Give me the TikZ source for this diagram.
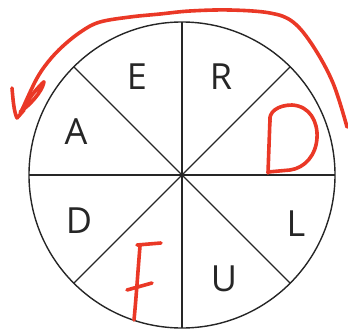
\documentclass[tikz,border=0pt]{standalone}
\usepackage{fontspec}
\setmainfont{Open Sans}
\definecolor{inkred}{RGB}{234,56,38}
\begin{document}
\begin{tikzpicture}[x=1pt,y=-1pt,
  blk/.style={line width=1.4pt,black!85},
  ink/.style={line width=3.6pt,inkred,line cap=round,line join=round},
  lbl/.style={inner sep=0pt,anchor=base,font=\fontsize{36}{36}\selectfont,text=black!85}]
\useasboundingbox (0,0) rectangle (348,332);
\coordinate (c) at (182,175);
\draw[blk] (c) circle[radius=153];
\foreach \a in {0,45,...,315}{\draw[blk] (c) -- ++(\a:153 and -153);}
\node[lbl] (E) at (137,89) {E};
\node[lbl] (R) at (221,89) {R};
\node[lbl] (A) at (76,144) {A};
\node[lbl] (D) at (79,233) {D};
\node[lbl] (L) at (296,236) {L};
\node[lbl] (U) at (224,291) {U};
% red arrow scribble
\draw[ink] plot[smooth,tension=0.6] coordinates {(347,127) (333,83) (313,46) (293,22) (270,13) (230,10) (190,11) (160,14) (130,17) (100,22) (82,31) (63,46) (48,62) (36,80) (22,110)};
\draw[ink] (22,110) .. controls (30,95) and (45,80) .. (44,82) .. controls (42,92) and (30,105) .. (20,112);
\draw[ink] (12,88) .. controls (13,100) and (14,112) .. (17,118) .. controls (20,115) and (22,112) .. (24,110);
% red D
\draw[ink] (268,173) -- (270,118);
\draw[ink] (270,122) .. controls (268,112) and (278,105) .. (292,105) .. controls (310,106) and (318,122) .. (317,138) .. controls (316,155) and (305,168) .. (290,170) -- (268,172);
% red F
\draw[ink] (137,245) -- (161,243);
\draw[ink] (140,246) .. controls (138,270) and (136,300) .. (134,320);
\draw[ink] (127,290) -- (152,283);
\end{tikzpicture}
\end{document}
